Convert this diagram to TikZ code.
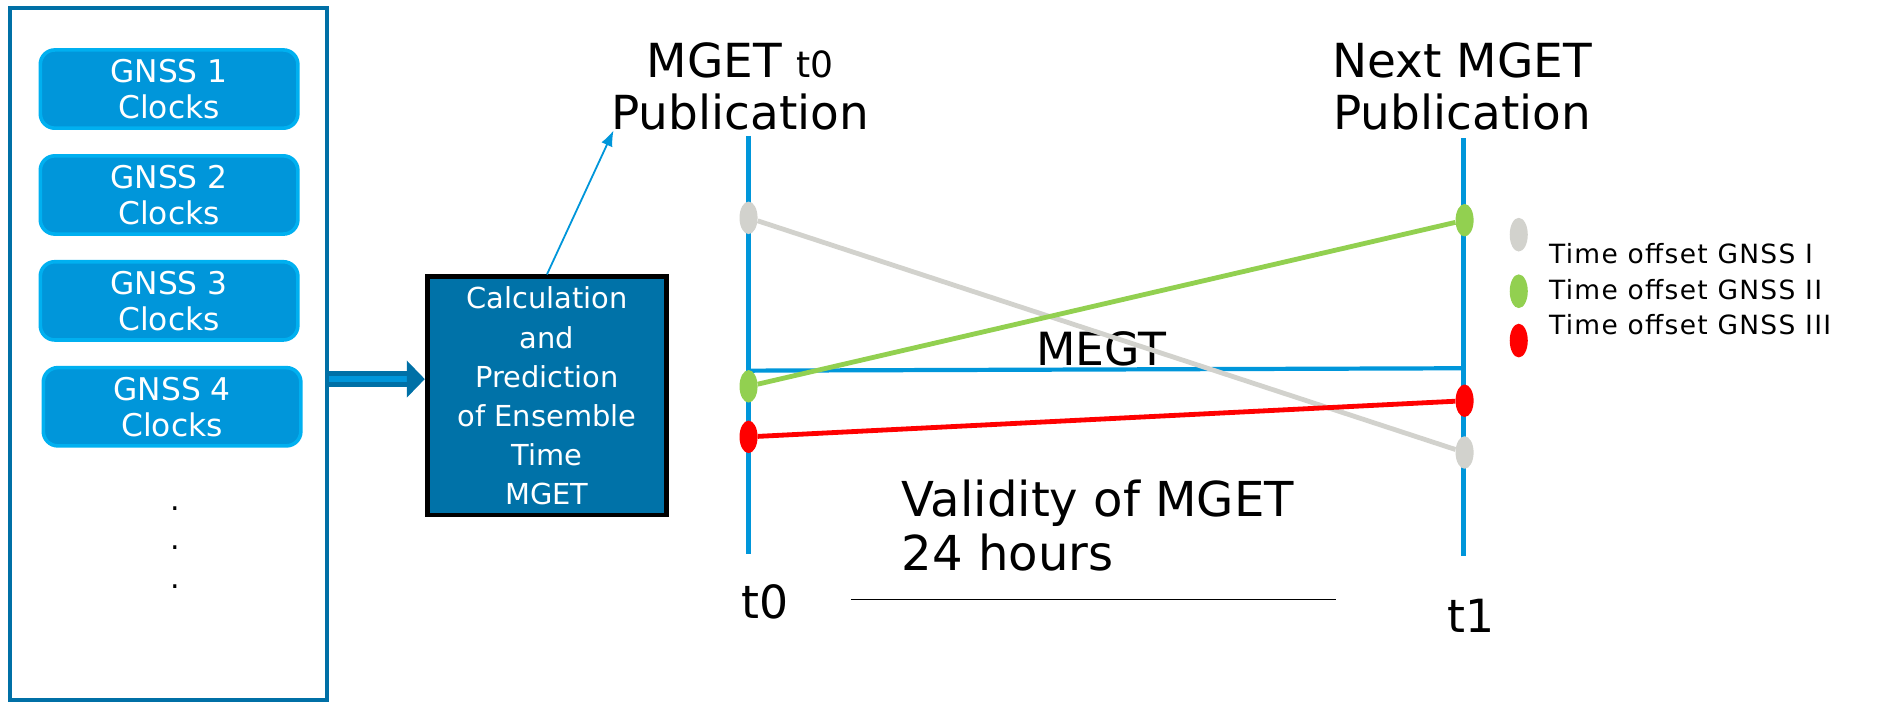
\documentclass[tikz,border=0pt]{standalone}
\usepackage{fontspec}
\setmainfont{DejaVu Sans}
\newfontfamily\legfont[LetterSpace=5]{DejaVu Sans}
\usepackage{tikz}
\usetikzlibrary{arrows, arrows.meta, calc, shapes.geometric, positioning}

\definecolor{dkblue}{RGB}{0,112,166}
\definecolor{midblue}{RGB}{0,150,218}
\definecolor{ltblue}{RGB}{0,176,240}
\definecolor{calcblue}{RGB}{0,114,168}
\definecolor{offgrey}{RGB}{210,210,205}
\definecolor{offgreen}{RGB}{146,208,80}
\definecolor{offred}{RGB}{255,0,0}

\tikzset{
  clockbox/.style={draw=ltblue, line width=3pt, fill=midblue, rounded corners=12pt,
    minimum width=214pt, minimum height=65pt, inner sep=0pt, align=center, text=white,
    font=\fontsize{26}{30}\selectfont},
  calcbox/.style={draw=black, line width=4pt, fill=calcblue, minimum width=199pt,
    minimum height=198pt, inner sep=0pt, align=center, text=white,
    font=\fontsize{24}{32.5}\selectfont},
  bigtext/.style={inner sep=0pt, align=center, font=\fontsize{39}{43}\selectfont},
  timeline/.style={draw=midblue, line width=4pt},
  offset/.style={ellipse, inner sep=0pt, minimum width=15pt, minimum height=27pt},
  legtext/.style={anchor=west, inner sep=0pt, font=\legfont\fontsize{22}{24}\selectfont}
}

\begin{document}
\begin{tikzpicture}[x=1pt, y=-1pt]
    \useasboundingbox (0,0) rectangle (1568,586);

    % clocks of the single systems
    \node (clk) [draw=dkblue, line width=3pt, minimum width=263pt, minimum height=575pt] at (140,294) {};
    \node (g1) [clockbox] at (140.5,74) {GNSS 1\\Clocks};
    \node (g2) [clockbox] at (140.5,162) {GNSS 2\\Clocks};
    \node (g3) [clockbox] at (140.5,250) {GNSS 3\\Clocks};
    \node (g4) [clockbox] at (143,338) {GNSS 4\\Clocks};
    \node (more) [align=center, inner sep=0pt, font=\fontsize{25}{32.5}\selectfont] at (146,455) {.\\.\\.};

    % ensemble time
    \node (calc) [calcbox] at (454.5,329) {Calculation\\and\\Prediction\\of Ensemble\\Time\\MGET};
    \coordinate (in) at ([yshift=14pt]calc.west);
    \draw[dkblue, line width=4pt, double=midblue, double distance=5pt, -{Triangle[length=15pt,width=30pt,fill=dkblue]}]
        (clk.east |- in) -- (in);

    \node (pub0) [bigtext] at (615,72) {MGET {\fontsize{30}{30}\selectfont t0}\\Publication};
    \node (pub1) [bigtext] at (1215,72) {Next MGET\\Publication};
    \draw[midblue, line width=1.5pt, -{Latex[length=13pt,width=10pt]}] (calc.north) -- ([xshift=2pt]pub0.south west);

    % time axes
    \coordinate (a0) at (622,113);
    \coordinate (b0) at (622,460);
    \coordinate (a1) at (1216,115);
    \coordinate (b1) at (1216,462);
    \draw[timeline] (a0) -- (b0);
    \draw[timeline] (a1) -- (b1);
    \draw[midblue, line width=3.5pt] (622,308) coordinate (m0) -- (1216,306) coordinate (m1);
    \node (megt) [font=\fontsize{38}{38}\selectfont, inner sep=0pt] at (915,290) {MEGT};

    % time offsets
    \node (gI0)   [offset, fill=offgrey]  at (622,181) {};
    \node (gII0)  [offset, fill=offgreen] at (622,321) {};
    \node (gIII0) [offset, fill=offred]   at (622,363) {};
    \node (gI1)   [offset, fill=offgrey]  at (1217,376) {};
    \node (gII1)  [offset, fill=offgreen] at (1217,183) {};
    \node (gIII1) [offset, fill=offred]   at (1217,333) {};
    \draw[offgrey, line width=4pt] (gI0) -- (gI1);
    \draw[offgreen, line width=4pt] (gII0) -- (gII1);
    \draw[offred, line width=4pt] (gIII0) -- (gIII1);

    % legend
    \node (lI)   [offset, fill=offgrey, minimum height=28pt]  at (1262,195) {};
    \node (lII)  [offset, fill=offgreen, minimum height=28pt] at (1262,242) {};
    \node (lIII) [offset, fill=offred, minimum height=28pt]   at (1262,283) {};
    \node (tI)   [legtext] at (1287,211) {Time offset GNSS I};
    \node (tII)  [legtext] at (1287,241) {Time offset GNSS II};
    \node (tIII) [legtext] at (1287,270) {Time offset GNSS III};

    % validity
    \node (valid) [bigtext, anchor=west, align=left, font=\fontsize{40}{45}\selectfont] at (749,437) {Validity of MGET\\24 hours};
    \coordinate (v0) at (707,498);
    \coordinate (v1) at (1110,498);
    \draw[line width=1.2pt] (v0) -- (v1);
    \node (t0) [font=\fontsize{38}{38}\selectfont, inner sep=0pt] at (636,500) {t0};
    \node (t1) [font=\fontsize{38}{38}\selectfont, inner sep=0pt] at (1222,512) {t1};
\end{tikzpicture}
\end{document}
